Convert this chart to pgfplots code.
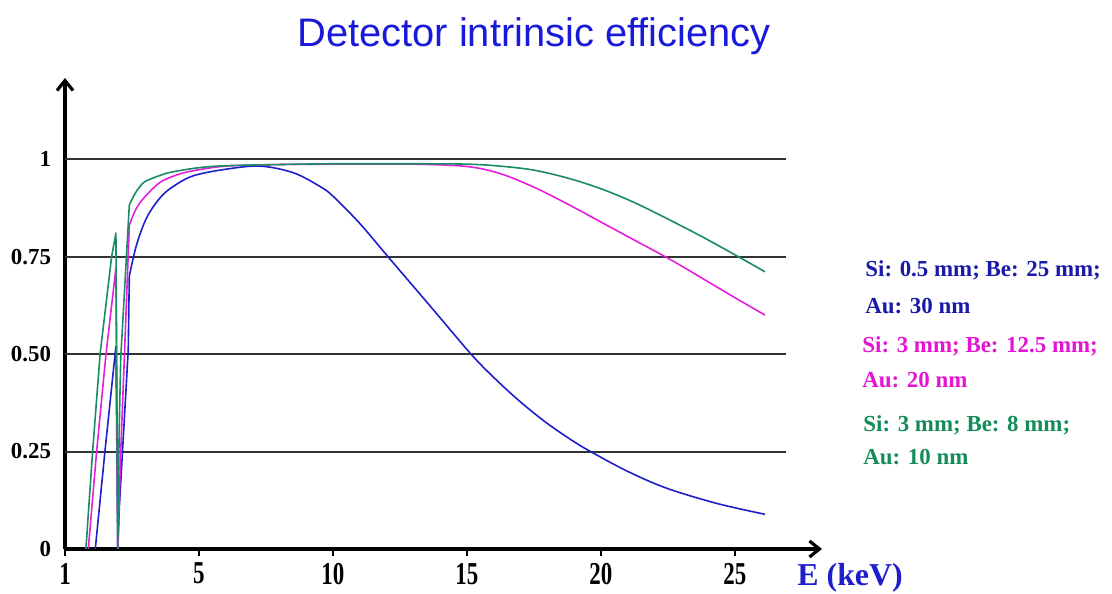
\documentclass[border=0pt]{standalone}
\usepackage{fontspec}
\setmainfont{Liberation Serif}
\newfontfamily\titlefont{Liberation Sans}
\newfontfamily\xtickfont[FakeStretch=0.72]{Liberation Serif}
\usepackage{pgfplots}
\pgfplotsset{compat=1.18}
\usepackage{pgfplotstable}
\usetikzlibrary{arrows.meta}
\definecolor{cblue}{RGB}{30,30,205}
\definecolor{cpink}{RGB}{230,30,220}
\definecolor{cgreen}{RGB}{25,140,100}
\definecolor{tblue}{RGB}{25,25,170}
\definecolor{tpink}{RGB}{230,20,210}
\definecolor{tgreen}{RGB}{20,140,90}
\definecolor{titleblue}{RGB}{25,25,220}

% low-energy parts (edges), drawn with straight segments
\pgfplotstableread{
x y
1.13 0
1.49 0.25
1.90 0.52
1.97 0
2.03 0.11
2.36 0.51
2.40 0.70
}\blueA
\pgfplotstableread{
x y
2.40 0.70
2.67 0.78
3.05 0.85
3.54 0.90
4.00 0.928
4.78 0.957
6.00 0.974
7.28 0.982
8.52 0.965
9.51 0.930
10.0 0.905
11.0 0.835
12.05 0.75
13.74 0.614
15.15 0.50
16.0 0.440
17.0 0.377
18.0 0.322
19.0 0.275
19.69 0.247
21.0 0.199
22.45 0.156
24.32 0.117
26.12 0.089
}\blueB

\pgfplotstableread{
x y
0.87 0
1.18 0.25
1.53 0.50
1.90 0.72
1.97 0
2.08 0.25
2.22 0.50
2.40 0.83
}\pinkA
\pgfplotstableread{
x y
2.40 0.83
2.60 0.865
2.90 0.897
3.54 0.940
4.20 0.960
4.78 0.970
6.00 0.982
8.00 0.986
10.0 0.987
13.0 0.987
15.0 0.981
16.23 0.963
17.47 0.929
18.72 0.886
19.96 0.840
21.2 0.794
22.6 0.742
23.69 0.698
24.94 0.647
26.12 0.600
}\pinkB

\pgfplotstableread{
x y
0.78 0
1.03 0.25
1.31 0.50
1.74 0.75
1.90 0.81
1.97 0
2.02 0.30
2.08 0.49
2.40 0.882
}\greenA
\pgfplotstableread{
x y
2.40 0.882
2.60 0.910
2.80 0.930
3.00 0.943
3.54 0.958
4.00 0.967
5.00 0.978
6.00 0.983
8.00 0.986
10.0 0.988
13.0 0.988
15.0 0.987
16.23 0.982
17.47 0.972
18.72 0.952
19.96 0.925
21.2 0.890
22.45 0.848
23.8 0.800
25.12 0.750
26.12 0.711
}\greenB

\begin{document}
\begin{tikzpicture}
\begin{axis}[
  at={(32.5bp,22.5bp)}, anchor=south west,
  scale only axis, width=378.5bp, height=235.5bp,
  xmin=0, xmax=28.25, ymin=0, ymax=1.208,
  axis lines=left,
  axis line style={line width=2bp, -{Straight Barb[length=5bp,width=8bp,line width=1.6bp]}},
  xtick={0,5,10,15,20,25}, xticklabels={1,5,10,15,20,25},
  ytick={0,0.25,0.5,0.75,1}, yticklabels={0,0.25,0.50,0.75,1},
  tick align=outside, major tick length=3.5bp,
  x tick style={black, line width=0.8bp},
  y tick style={draw=none},
  xticklabel style={font=\xtickfont\bfseries\fontsize{16}{16}\selectfont},
  yticklabel style={font=\bfseries\fontsize{11.5}{12}\selectfont},
  /pgf/number format/assume math mode=true,
]
\foreach \g in {0.25,0.5,0.75,1}{
  \edef\tmp{\noexpand\draw[black!80, line width=1bp] (axis cs:0,\g) -- (axis cs:26.9,\g);}
  \tmp
}
\addplot[cblue, line width=0.8bp, line join=round] table[x=x,y=y] {\blueA};
\addplot[cblue, line width=0.8bp, smooth, tension=0.55] table[x=x,y=y] {\blueB};
\addplot[cpink, line width=0.8bp, line join=round] table[x=x,y=y] {\pinkA};
\addplot[cpink, line width=0.8bp, smooth, tension=0.55] table[x=x,y=y] {\pinkB};
\addplot[cgreen, line width=0.8bp, line join=round] table[x=x,y=y] {\greenA};
\addplot[cgreen, line width=0.8bp, smooth, tension=0.55] table[x=x,y=y] {\greenB};
\end{axis}
\node[anchor=base, font=\titlefont\fontsize{20}{24}\selectfont, text=titleblue] at (267bp,273.5bp) {Detector intrinsic efficiency};
\node[anchor=base west, inner sep=0pt, font=\bfseries\fontsize{16}{18}\selectfont, text=cblue] at (398.5bp,4.5bp) {E (keV)};
\begin{scope}[every node/.style={anchor=base west, inner sep=0pt, font=\bfseries\fontsize{11.5}{13}\selectfont}]
\node[text=tblue] at (432.5bp,158.5bp) {Si: 0.5 mm; Be: 25 mm;};
\node[text=tblue] at (432.5bp,140bp) {Au: 30 nm};
\node[text=tpink] at (431bp,120.5bp) {Si: 3 mm; Be: 12.5 mm;};
\node[text=tpink] at (431bp,103bp) {Au: 20 nm};
\node[text=tgreen] at (431.5bp,81bp) {Si: 3 mm; Be: 8 mm;};
\node[text=tgreen] at (431.5bp,64.5bp) {Au: 10 nm};
\end{scope}
\pgfresetboundingbox
\path (0,0) rectangle (556bp,297bp);
\end{tikzpicture}
\end{document}
